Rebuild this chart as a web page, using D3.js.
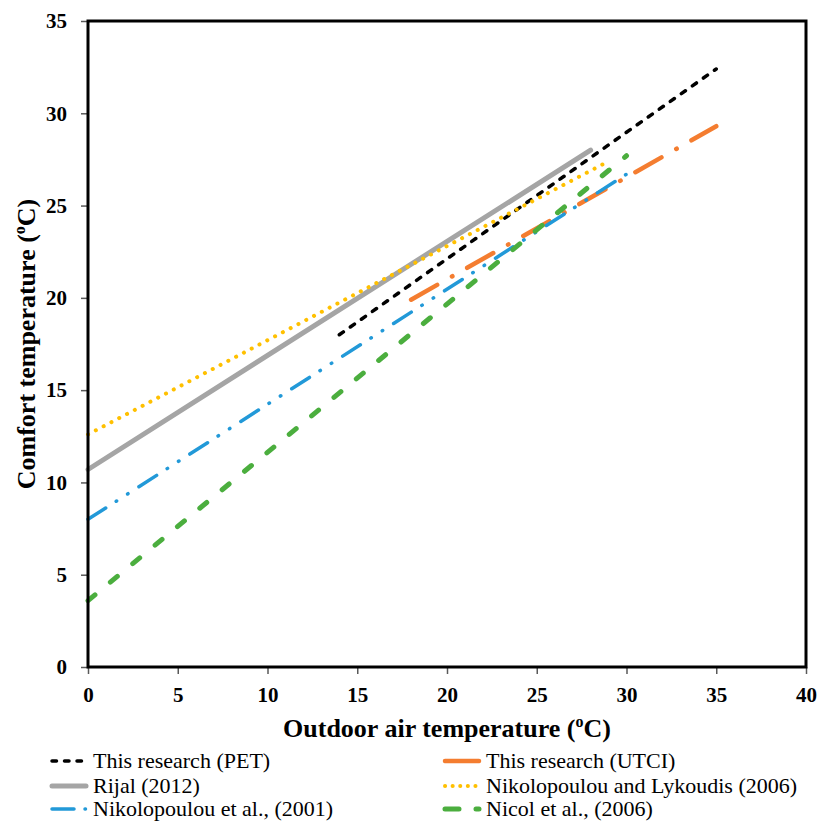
<!DOCTYPE html>
<html>
<head>
<meta charset="utf-8">
<script src="https://cdn.jsdelivr.net/npm/d3@7"></script>
<style>
  body { margin: 0; background: #fff; }
  svg { display: block; }
  svg text { font-family: "Liberation Serif", "Times New Roman", serif; }
  .tick text { font-weight: bold; font-size: 21px; fill: #000; }
  .tick line { stroke: #595959; stroke-width: 1.5; }
  .legend text { font-size: 22px; fill: #000; }
</style>
</head>
<body>
<svg id="chart" width="820" height="828"></svg>
<script>
// axis ticks
const xTicks = [0, 5, 10, 15, 20, 25, 30, 35, 40];
const yTicks = [0, 5, 10, 15, 20, 25, 30, 35];

// each line is straight: start and end points [outdoor temp, comfort temp]
const petLine = [[14, 18.0], [35, 32.4]];
const utciLine = [[18, 19.9], [35, 29.3]];
const rijalLine = [[0, 10.7], [28, 28.0]];
const lykoudisLine = [[0, 12.6], [29, 27.4]];
const nikoLine = [[0, 8.0], [30, 26.7]];
const nicolLine = [[0, 3.6], [30, 27.7]];

const seriesNames = [
  "This research (PET)", "This research (UTCI)",
  "Rijal (2012)", "Nikolopoulou and Lykoudis (2006)",
  "Nikolopoulou et al., (2001)", "Nicol et al., (2006)"
];

const series = [
  { name: seriesNames[0], pts: petLine, color: "#000000", width: 3.5, dash: "5,8.5", legendDash: "4.5,8" },
  { name: seriesNames[1], pts: utciLine, color: "#F47D30", width: 4.5, dash: "30,17,0.5,17", legendDash: null },
  { name: seriesNames[2], pts: rijalLine, color: "#A5A5A5", width: 5, dash: null, legendDash: null },
  { name: seriesNames[3], pts: lykoudisLine, color: "#FFC000", width: 4, dash: "0.1,8.7", legendDash: "0.1,7.5" },
  { name: seriesNames[4], pts: nikoLine, color: "#2299D8", width: 3.5, dash: "21,12.5,0.5,13,0.5,13", legendDash: "22,11,0.5,11" },
  { name: seriesNames[5], pts: nicolLine, color: "#4BAE3E", width: 5, dash: "9,20", legendDash: "14,17" }
];

const svg = d3.select("#chart");
const plot = { left: 88, right: 806, top: 21, bottom: 667 };

const x = d3.scaleLinear().domain([0, 40]).range([plot.left, plot.right]);
const y = d3.scaleLinear().domain([0, 35]).range([plot.bottom, plot.top]);

// axes
svg.append("g")
  .attr("transform", `translate(0,${plot.bottom})`)
  .call(d3.axisBottom(x).tickValues(xTicks).tickSizeInner(7).tickSizeOuter(0).tickPadding(13))
  .call(g => g.attr("font-family", null).select(".domain").remove());

svg.append("g")
  .attr("transform", `translate(${plot.left},0)`)
  .call(d3.axisLeft(y).tickValues(yTicks).tickSizeInner(7).tickSizeOuter(0).tickPadding(14))
  .call(g => g.attr("font-family", null).select(".domain").remove());

// lines
const line = d3.line().x(d => x(d[0])).y(d => y(d[1]));
svg.append("g").selectAll("path")
  .data(series)
  .enter()
  .append("path")
  .attr("d", d => line(d.pts))
  .attr("fill", "none")
  .attr("stroke", d => d.color)
  .attr("stroke-width", d => d.width)
  .attr("stroke-linecap", "round")
  .attr("stroke-dasharray", d => d.dash);

// frame
svg.append("rect")
  .attr("x", plot.left)
  .attr("y", plot.top)
  .attr("width", plot.right - plot.left)
  .attr("height", plot.bottom - plot.top)
  .attr("fill", "none")
  .attr("stroke", "#000")
  .attr("stroke-width", 3);

// axis titles
const xTitle = svg.append("text")
  .attr("x", 447).attr("y", 737)
  .attr("text-anchor", "middle")
  .attr("font-weight", "bold").attr("font-size", 26);
xTitle.append("tspan").text("Outdoor air temperature (");
xTitle.append("tspan").attr("font-size", 16).attr("dy", -10).text("o");
xTitle.append("tspan").attr("dy", 10).text("C)");

const yTitle = svg.append("text")
  .attr("transform", "translate(35,344) rotate(-90)")
  .attr("text-anchor", "middle")
  .attr("font-weight", "bold").attr("font-size", 26);
yTitle.append("tspan").text("Comfort temperature (");
yTitle.append("tspan").attr("font-size", 16).attr("dy", -10).text("o");
yTitle.append("tspan").attr("dy", 10).text("C)");

// legend
const legendCols = [50, 443];
const legendRows = [768, 793, 816];
const legend = svg.append("g").attr("class", "legend");
series.forEach((s, i) => {
  const lx = legendCols[i % 2];
  const ly = legendRows[Math.floor(i / 2)];
  const item = legend.append("g");
  item.append("line")
    .attr("x1", lx + 2).attr("x2", lx + 36)
    .attr("y1", ly - 7).attr("y2", ly - 7)
    .attr("stroke", s.color)
    .attr("stroke-width", s.width)
    .attr("stroke-linecap", "round")
    .attr("stroke-dasharray", s.legendDash);
  item.append("text")
    .attr("x", lx + 43).attr("y", ly)
    .text(s.name);
});
</script>
</body>
</html>
